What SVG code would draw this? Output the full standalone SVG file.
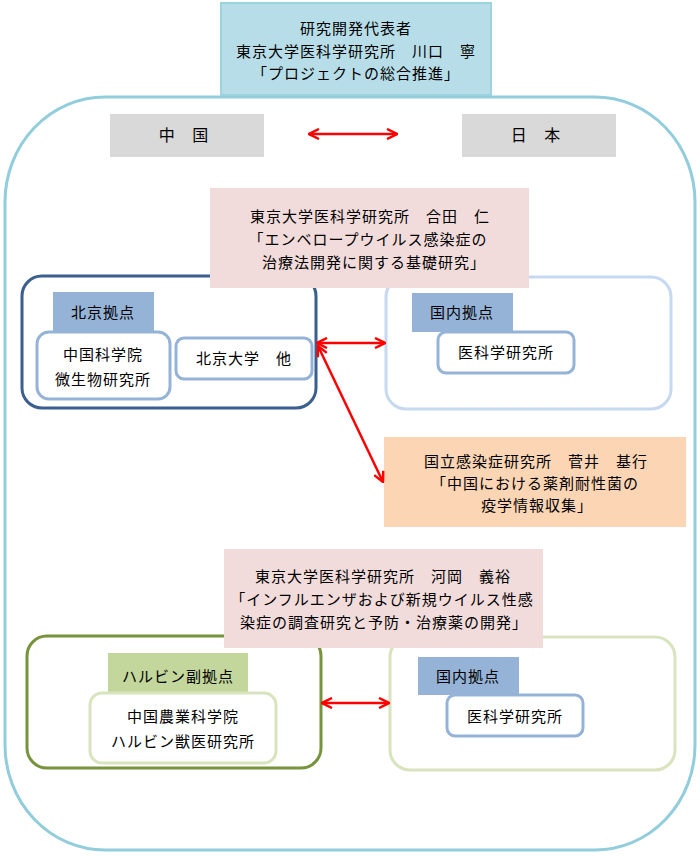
<svg xmlns="http://www.w3.org/2000/svg" width="700" height="856" viewBox="0 0 700 856">
<defs>
<style>
text{font-family:"Noto Sans CJK JP","Noto Sans",sans-serif;font-size:15px;letter-spacing:1px;fill:#000;text-anchor:middle}
.c{stroke-width:3}
.arrow{stroke:#ff0000;stroke-width:2.5;fill:none;marker-start:url(#ah);marker-end:url(#ah)}
</style>
<marker id="ah" markerUnits="userSpaceOnUse" viewBox="0 0 12 12" refX="11" refY="6" markerWidth="12" markerHeight="12" orient="auto-start-reverse">
<path d="M1,1 L11,6 L1,11" fill="none" stroke="#ff0000" stroke-width="2.5"/>
</marker>
</defs>
<rect width="700" height="856" fill="#fff"/>
<g id="outer"><rect x="5" y="97" width="690" height="753" rx="100" ry="105" fill="#fff" stroke="#92cddc" stroke-width="3"/></g>
<g id="leader"><rect x="221" y="3" width="270" height="92" fill="#b7dee8" stroke="#9dd3e0" stroke-width="2"/>
<text x="356" y="34">研究開発代表者</text><text x="356" y="57">東京大学医科学研究所　川口　寧</text><text x="356" y="79">「プロジェクトの総合推進」</text></g>
<g id="china"><rect x="110" y="114" width="154" height="43" fill="#d9d9d9"/><text x="187" y="141" style="font-size:16px;letter-spacing:7px">中 国</text></g>
<g id="japan"><rect x="462" y="114" width="154" height="43" fill="#d9d9d9"/><text x="539" y="141" style="font-size:16px;letter-spacing:7px">日 本</text></g>
<g id="beijing"><rect x="22" y="276" width="294" height="132" rx="20" fill="#fff" stroke="#3b5f8f" class="c"/>
<rect x="53" y="292" width="101" height="39" fill="#95b3d7"/><text x="103" y="318">北京拠点</text>
<rect x="37" y="332" width="133" height="67" rx="12" fill="#fff" stroke="#95b3d7" class="c"/><text x="103" y="360">中国科学院</text><text x="103" y="385">微生物研究所</text>
<rect x="176" y="338" width="136" height="41" rx="8" fill="#fff" stroke="#95b3d7" class="c"/><text x="244" y="364">北京大学　他</text></g>
<g id="jp1"><rect x="386" y="277" width="285" height="132" rx="20" fill="#fff" stroke="#c6d9f1" class="c"/>
<rect x="412" y="293" width="101" height="39" fill="#95b3d7"/><text x="462" y="318">国内拠点</text>
<rect x="438" y="332" width="136" height="41" rx="8" fill="#fff" stroke="#95b3d7" class="c"/><text x="506" y="358">医科学研究所</text></g>
<g id="pink1"><rect x="210" y="188" width="319" height="100" fill="#f2dcdb"/>
<text x="370" y="222">東京大学医科学研究所　合田　仁</text><text x="368" y="245">「エンベロープウイルス感染症の</text><text x="374" y="268">治療法開発に関する基礎研究」</text></g>
<g id="orange"><rect x="384" y="437" width="302" height="90" fill="#fcd5b5"/>
<text x="536" y="467">国立感染症研究所　菅井　基行</text><text x="535" y="489">「中国における薬剤耐性菌の</text><text x="537" y="511">疫学情報収集」</text></g>
<g id="harbin"><rect x="27" y="636" width="294" height="132" rx="20" fill="#fff" stroke="#77933c" class="c"/>
<rect x="108" y="653" width="140" height="39" fill="#c3d69b"/><text x="178" y="682">ハルビン副拠点</text>
<rect x="90" y="693" width="186" height="70" rx="12" fill="#fff" stroke="#d7e4bd" class="c"/><text x="183" y="722">中国農業科学院</text><text x="183" y="747">ハルビン獣医研究所</text></g>
<g id="jp2"><rect x="390" y="637" width="285" height="133" rx="20" fill="#fff" stroke="#d7e4bd" class="c"/>
<rect x="418" y="657" width="101" height="38" fill="#95b3d7"/><text x="468" y="682">国内拠点</text>
<rect x="447" y="695" width="136" height="41" rx="8" fill="#fff" stroke="#95b3d7" class="c"/><text x="515" y="722">医科学研究所</text></g>
<g id="pink2"><rect x="224" y="549" width="319" height="99" fill="#f2dcdb"/>
<text x="383" y="582">東京大学医科学研究所　河岡　義裕</text><text x="382" y="605">「インフルエンザおよび新規ウイルス性感</text><text x="384" y="628">染症の調査研究と予防・治療薬の開発」</text></g>
<g id="connectors">
<line x1="309" y1="134" x2="397" y2="134" class="arrow"/>
<line x1="317" y1="343" x2="385" y2="343" class="arrow"/>
<line x1="318" y1="346" x2="383" y2="482" class="arrow"/>
<line x1="322" y1="703" x2="389" y2="703" class="arrow"/>
</g>
</svg>
